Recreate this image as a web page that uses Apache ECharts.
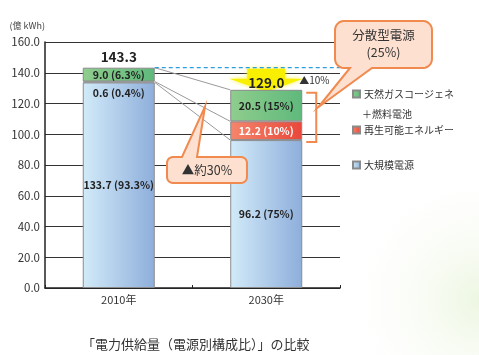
<!DOCTYPE html>
<html><head><meta charset="utf-8">
<script src="https://cdn.jsdelivr.net/npm/echarts@6/dist/echarts.min.js"></script>
<style>html,body{margin:0;padding:0;background:#fff}#c{width:479px;height:355px}</style>
</head><body><div id="c"></div>
<script>
const categories = ['2010年', '2030年'];
const largeScale = [133.7, 96.2];
const renewable = [0.6, 12.2];
const gasCogen = [9.0, 20.5];
const totals = [143.3, 129.0];
const largeLabels = ['133.7 (93.3%)', '96.2 (75%)'];
const renewLabels = ['0.6 (0.4%)', '12.2 (10%)'];
const gasLabels = ['9.0 (6.3%)', '20.5 (15%)'];
const yMin = 0, yMax = 160, yStep = 20;
const seriesNames = ['大規模電源', '再生可能エネルギー', '天然ガスコージェネ'];
const calloutDistributed = ['分散型電源', '(25%)'];
const calloutReduction = '▲約30%';
const reductionNote = '▲10%';
const title = '「電力供給量（電源別構成比）」の比較';
const unitLabel = '(億 kWh)';

const FONT = '"Noto Sans CJK JP", "Noto Sans", sans-serif';
const G = echarts.graphic;
const blueGrad = new G.LinearGradient(0, 0, 1, 0, [{offset: 0, color: '#d2ebf9'}, {offset: 1, color: '#8eaedb'}]);
const greenGrad = new G.LinearGradient(0, 0, 1, 0, [{offset: 0, color: '#8fcd8d'}, {offset: 1, color: '#5fb97c'}]);
const redGrad = new G.LinearGradient(0, 0, 1, 0, [{offset: 0, color: '#f4866c'}, {offset: 1, color: '#e9473a'}]);
const BW = 72;

function segData(values, labels, cfgs) {
  return values.map((v, i) => ({value: v, label: Object.assign({formatter: labels[i]}, cfgs[i] || {})}));
}
const lblBase = {show: true, fontFamily: FONT, fontSize: 10.5, fontWeight: 'bold', color: '#222'};
const chart = echarts.init(document.getElementById('c'), null, {renderer: 'canvas'});
const option = {
  backgroundColor: '#fff',
  animation: false,
  grid: {left: 45, right: 139, top: 42, bottom: 67},
  title: {text: title, left: 77, top: 333, textStyle: {fontFamily: FONT, fontSize: 13, fontWeight: 'normal', color: '#333'}},
  xAxis: {type: 'category', data: categories,
    axisLine: {lineStyle: {color: '#222', width: 1.5}},
    axisTick: {show: true, length: -3, lineStyle: {color: '#222'}},
    axisLabel: {fontFamily: FONT, fontSize: 11, color: '#333', margin: 6}},
  yAxis: {type: 'value', min: yMin, max: yMax, interval: yStep,
    name: unitLabel, nameLocation: 'end', nameGap: 12,
    nameTextStyle: {fontFamily: FONT, fontSize: 9, color: '#444', align: 'right'},
    axisLine: {show: true, lineStyle: {color: '#222', width: 1.5}},
    axisTick: {show: false},
    axisLabel: {fontFamily: FONT, fontSize: 11.5, color: '#333', margin: 5, formatter: v => v.toFixed(1)},
    splitLine: {lineStyle: {color: '#333', width: 1}}},
  legend: [
    {data: [seriesNames[2]], left: 352, top: 89},
    {data: [seriesNames[1]], left: 352, top: 125},
    {data: [seriesNames[0]], left: 352, top: 160}
  ].map(l => Object.assign(l, {orient: 'vertical', padding: 0, itemWidth: 7, itemHeight: 7, itemGap: 4, icon: 'rect',
      textStyle: {fontFamily: FONT, fontSize: 10, color: '#333', padding: [0, 0, 0, -1]}})),
  series: [
    {name: seriesNames[0], type: 'bar', stack: 'a', barWidth: BW, data: segData(largeScale, largeLabels, [{}, {}]),
      itemStyle: {color: blueGrad, borderColor: '#8a8a8a', borderWidth: 1},
      label: Object.assign({}, lblBase, {position: 'inside'})},
    {name: seriesNames[1], type: 'bar', stack: 'a', barWidth: BW,
      data: segData(renewable, renewLabels, [{position: 'bottom', distance: 5, color: '#222'}, {position: 'inside', color: '#fff'}]),
      itemStyle: {color: redGrad, borderColor: '#8a8a8a', borderWidth: 1},
      label: Object.assign({}, lblBase)},
    {name: seriesNames[2], type: 'bar', stack: 'a', barWidth: BW, data: segData(gasCogen, gasLabels, [{}, {}]),
      itemStyle: {color: greenGrad, borderColor: '#8a8a8a', borderWidth: 1},
      label: Object.assign({}, lblBase, {position: 'inside'})},
    {name: 'total', type: 'bar', stack: 'a', barWidth: BW, z: 5,
      data: totals.map((t, i) => ({value: 0, label: {distance: i === 0 ? 4 : 0}})),
      itemStyle: {color: 'rgba(0,0,0,0)', borderWidth: 0},
      label: {show: true, position: 'top', fontFamily: FONT, fontSize: 13.5, fontWeight: 'bold', color: '#222',
        formatter: p => totals[p.dataIndex].toFixed(1)}}
  ]
};
chart.setOption(option);

const P = (c, v) => chart.convertToPixel({xAxisIndex: 0, yAxisIndex: 0}, [c, v]);
const lvl = i => [largeScale[i], largeScale[i] + renewable[i], largeScale[i] + renewable[i] + gasCogen[i]];
const l0 = lvl(0), l1 = lvl(1);
const graphics = [];
const gridRight = 479 - 139;
graphics.push({type: 'circle', z: -10, silent: true, shape: {cx: 479, cy: 300, r: 140},
  style: {fill: new G.RadialGradient(0.5, 0.5, 0.5, [{offset: 0, color: 'rgba(225,240,205,0.6)'}, {offset: 1, color: 'rgba(255,255,255,0)'}])}});
for (let k = 0; k < 3; k++) {
  const a = P(0, l0[k]), b = P(1, l1[k]);
  graphics.push({type: 'line', z: 3, shape: {x1: a[0] + BW / 2, y1: a[1], x2: b[0] - BW / 2, y2: b[1]}, style: {stroke: '#9a9a9a', lineWidth: 1}});
}
const t0 = P(0, totals[0]);
graphics.push({type: 'line', z: 3, shape: {x1: t0[0] + BW / 2, y1: t0[1], x2: gridRight, y2: t0[1]}, style: {stroke: '#2a9fe0', lineWidth: 1.2, lineDash: [4, 3]}});
const c1 = P(1, totals[1]);
const cx = c1[0], ytop = t0[1] + 1, yhead = ytop + 10, ytip = c1[1] + 2;
graphics.push({type: 'polygon', z: 1, shape: {points: [[cx - 19, ytop], [cx + 19, ytop], [cx + 19, yhead], [cx + 37, yhead], [cx, ytip], [cx - 37, yhead], [cx - 19, yhead]]},
  style: {fill: '#f8f000', shadowBlur: 4, shadowColor: 'rgba(250,240,0,0.8)'}});
graphics.push({type: 'text', z: 6, style: {text: reductionNote, x: cx + BW / 2 - 3, y: c1[1] - 9, fontFamily: FONT, fontSize: 10, fill: '#333', textVerticalAlign: 'middle'}});
const bTop = P(1, l1[2])[1], bBot = P(1, l1[0])[1];
const bx = cx + BW / 2 + 4;
graphics.push({type: 'polyline', z: 6, shape: {points: [[bx, bTop + 3], [bx + 10, bTop + 3], [bx + 10, bBot + 2], [bx, bBot + 2]]}, style: {stroke: '#f08a4f', lineWidth: 2, fill: null}});

function arcPts(cxp, cyp, r, a0, a1) {
  const pts = [];
  for (let i = 0; i <= 6; i++) { const a = a0 + (a1 - a0) * i / 6; pts.push([cxp + r * Math.cos(a), cyp + r * Math.sin(a)]); }
  return pts;
}
function callout(x0, y0, x1, y1, r, tail) {
  const PI = Math.PI; let pts = [];
  pts = pts.concat(arcPts(x0 + r, y0 + r, r, PI, 1.5 * PI));
  if (tail.edge === 'top') pts.push([tail.a, y0], tail.tip, [tail.b, y0]);
  pts = pts.concat(arcPts(x1 - r, y0 + r, r, 1.5 * PI, 2 * PI));
  pts = pts.concat(arcPts(x1 - r, y1 - r, r, 0, 0.5 * PI));
  if (tail.edge === 'bottom') pts.push([tail.b, y1], tail.tip, [tail.a, y1]);
  pts = pts.concat(arcPts(x0 + r, y1 - r, r, 0.5 * PI, PI));
  return pts;
}
const bMid = P(1, (l1[0] + l1[2]) / 2 + 5)[1];
graphics.push({type: 'polygon', z: 8, shape: {points: callout(335, 21, 432, 68, 9, {edge: 'bottom', a: 350, b: 372, tip: [bx + 12, bMid]})},
  style: {fill: '#fde0d0', stroke: '#f08a4f', lineWidth: 2}});
graphics.push({type: 'text', z: 9, style: {text: calloutDistributed.join('\n'), x: 383.5, y: 44, textAlign: 'center', textVerticalAlign: 'middle', fontFamily: FONT, fontSize: 12.5, lineHeight: 17, fill: '#333'}});
const tipPt = [205, P(1, 120)[1] + 3];
graphics.push({type: 'polygon', z: 8, shape: {points: callout(167, 157, 247, 183, 6, {edge: 'top', a: 182, b: 197, tip: tipPt})},
  style: {fill: '#fde0d0', stroke: '#f08a4f', lineWidth: 2}});
graphics.push({type: 'text', z: 9, style: {text: calloutReduction, x: 207, y: 170.5, textAlign: 'center', textVerticalAlign: 'middle', fontFamily: FONT, fontSize: 12.5, fill: '#333'}});
graphics.push({type: 'text', z: 9, style: {text: '＋燃料電池', x: 362, y: 114, textVerticalAlign: 'middle', fontFamily: FONT, fontSize: 10, fill: '#333'}});
chart.setOption({graphic: graphics});
</script></body></html>
